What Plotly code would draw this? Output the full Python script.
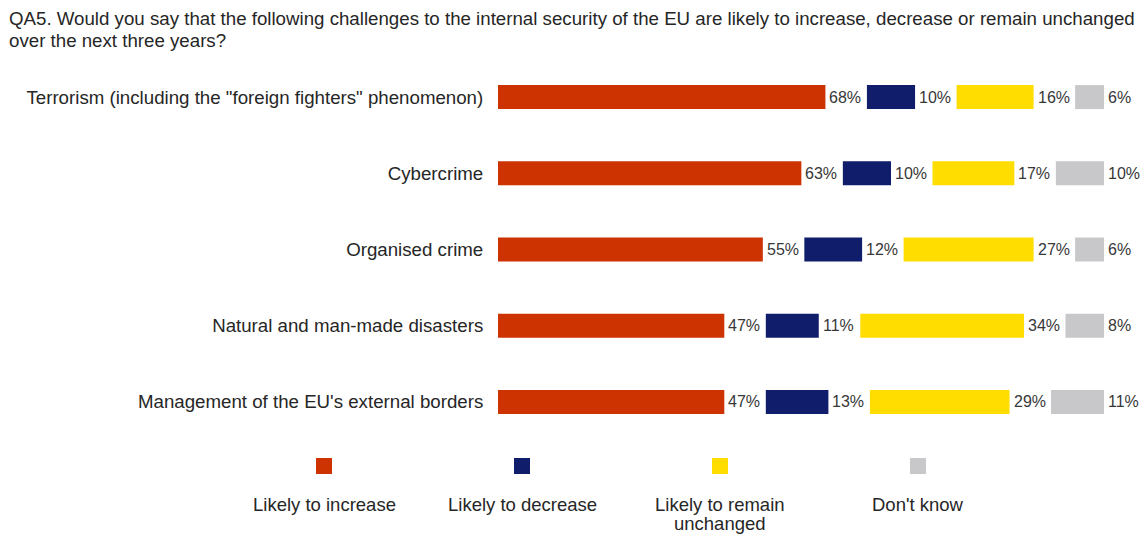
import plotly.graph_objects as go

# Survey answers, in percent
categories = [
    'Terrorism (including the "foreign fighters" phenomenon)',
    "Cybercrime",
    "Organised crime",
    "Natural and man-made disasters",
    "Management of the EU's external borders",
]
likely_increase = [68, 63, 55, 47, 47]
likely_decrease = [10, 10, 12, 11, 13]
likely_unchanged = [16, 17, 27, 34, 29]
dont_know = [6, 10, 6, 8, 11]

series_names = ["Likely to increase", "Likely to decrease",
                "Likely to remain unchanged", "Don't know"]
legend_lines = [["Likely to increase"], ["Likely to decrease"],
                ["Likely to remain", "unchanged"], ["Don't know"]]
series_values = [likely_increase, likely_decrease, likely_unchanged, dont_know]
colors = ["#CC3300", "#101D6B", "#FFDD00", "#C8C8CA"]

title_lines = [
    "QA5. Would you say that the following challenges to the internal security of the EU "
    "are likely to increase, decrease or remain unchanged",
    "over the next three years?",
]

W, H = 1148, 534
ML, MR, MT, MB = 498, 0, 59, 94
PX_PER_UNIT = 4.815
GAP = 41.5 / PX_PER_UNIT          # room left after each segment for its label
X_MAX = (W - ML - MR) / PX_PER_UNIT
TEXT = "#262626"
BIG = 18.7

fig = go.Figure()
annotations = []

offsets = [0.0] * len(categories)
for name, vals, col in zip(series_names, series_values, colors):
    fig.add_trace(go.Bar(
        y=categories, x=vals, base=offsets[:], orientation="h",
        marker=dict(color=col, line=dict(width=0)),
        width=0.315, name=name, showlegend=False, hoverinfo="skip",
    ))
    for i, (cat, v) in enumerate(zip(categories, vals)):
        annotations.append(dict(
            x=offsets[i] + v, y=cat, xref="x", yref="y",
            text=f"{v}%", showarrow=False, xanchor="left", yanchor="middle",
            xshift=2, font=dict(size=16, color="#383838"),
        ))
    offsets = [o + v + GAP for o, v in zip(offsets, vals)]

plot_w = W - ML - MR
plot_h = H - MT - MB


def paper_x(px):
    return (px - ML) / plot_w


def paper_y(py):
    return (H - MB - py) / plot_h


# Title, one annotation per line
for k, line in enumerate(title_lines):
    annotations.append(dict(
        x=paper_x(7), y=paper_y(18 + 22 * k), xref="paper", yref="paper",
        xanchor="left", yanchor="middle", showarrow=False,
        text=line, font=dict(size=BIG, color=TEXT),
    ))

# Legend: swatch above, label underneath
legend_centers = [324, 522, 720, 918]
shapes = []
for cx, lines, col in zip(legend_centers, legend_lines, colors):
    shapes.append(dict(
        type="rect", xref="paper", yref="paper",
        xsizemode="pixel", ysizemode="pixel",
        xanchor=paper_x(cx), yanchor=paper_y(466),
        x0=-8, x1=8, y0=-8, y1=8,
        fillcolor=col, line=dict(width=0),
    ))
    for k, line in enumerate(lines):
        annotations.append(dict(
            x=paper_x(cx), y=paper_y(504 + 19.5 * k), xref="paper", yref="paper",
            xanchor="center", yanchor="middle", showarrow=False,
            text=line, font=dict(size=18.5, color=TEXT),
        ))

fig.update_layout(
    width=W, height=H,
    margin=dict(l=ML, r=MR, t=MT, b=MB, pad=0),
    paper_bgcolor="white", plot_bgcolor="white",
    barmode="overlay",
    font=dict(family="Liberation Sans, Arial, sans-serif", color=TEXT),
    xaxis=dict(range=[0, X_MAX], visible=False, fixedrange=True),
    yaxis=dict(
        categoryorder="array", categoryarray=categories,
        autorange="reversed", showgrid=False, zeroline=False, showline=False,
        ticks="outside", ticklen=10, tickcolor="rgba(0,0,0,0)",
        tickfont=dict(size=BIG, color=TEXT), fixedrange=True,
    ),
    annotations=annotations,
    shapes=shapes,
)

fig.write_html("out.html")
